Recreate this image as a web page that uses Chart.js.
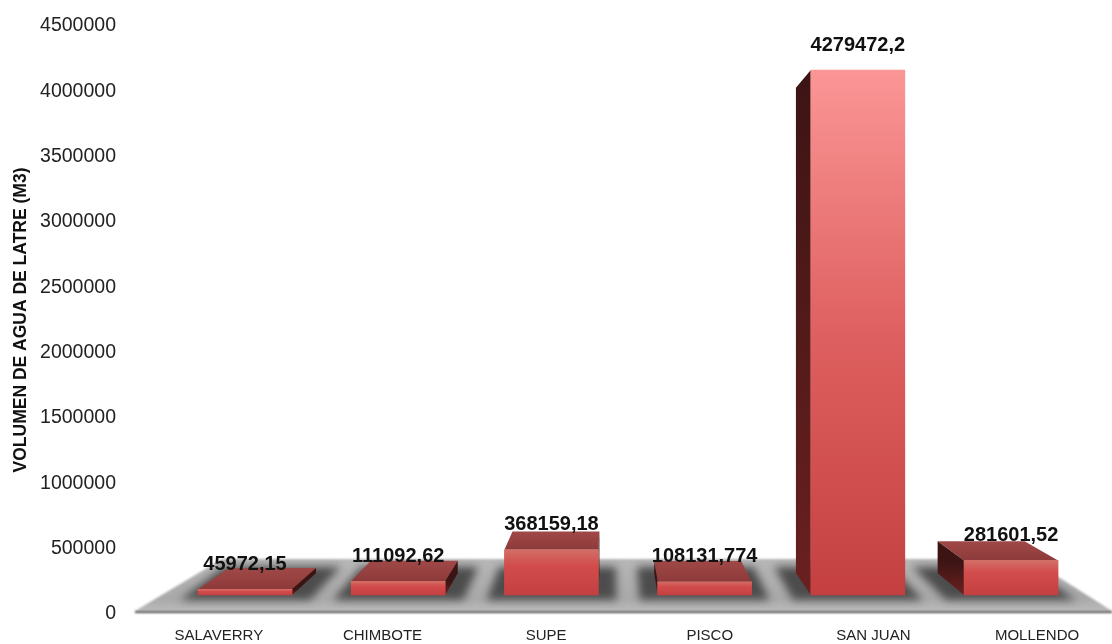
<!DOCTYPE html>
<html>
<head>
<meta charset="utf-8">
<title>Volumen de agua de latre</title>
<script src="https://cdn.jsdelivr.net/npm/chart.js@4/dist/chart.umd.min.js"></script>
<style>
    html, body { margin: 0; padding: 0; background: #fff; }
    canvas { display: block; }
</style>
</head>
<body>
<canvas id="volumeChart" width="1112" height="644"></canvas>
<script>
var ports = ['SALAVERRY', 'CHIMBOTE', 'SUPE', 'PISCO', 'SAN JUAN', 'MOLLENDO'];
var volumes = [45972.15, 111092.62, 368159.18, 108131.774, 4279472.2, 281601.52];
var yMax = 4500000;
var yStep = 500000;
var yTitle = 'VOLUMEN DE AGUA DE LATRE (M3)';

var FONT = '"Liberation Sans", Arial, sans-serif';

// perspective of the fake 3D boxes
var vanishX = 612, vanishY = 306, depth = 0.075;
function back(x, y) {
    return [x + (vanishX - x) * depth, y + (vanishY - y) * depth];
}

function poly(ctx, pts, fill) {
    ctx.beginPath();
    ctx.moveTo(pts[0][0], pts[0][1]);
    for (var i = 1; i < pts.length; i++) ctx.lineTo(pts[i][0], pts[i][1]);
    ctx.closePath();
    ctx.fillStyle = fill;
    ctx.fill();
}

var boxPlugin = {
    id: 'box3d',
    beforeDatasetsDraw: function (chart) {
        var ctx = chart.ctx;
        var bars = chart.getDatasetMeta(0).data;

        // floor
        ctx.save();
        ctx.filter = 'blur(1px)';
        var floor = ctx.createLinearGradient(0, 559, 0, 612);
        floor.addColorStop(0, '#b8b8b8');
        floor.addColorStop(0.75, '#a9a9a9');
        floor.addColorStop(1, '#bcbcbc');
        poly(ctx, [[135, 611], [222, 559], [1030, 559], [1112, 611]], floor);
        ctx.fillStyle = '#4a4a4a';
        ctx.fillRect(135, 611, 977, 2);
        ctx.restore();

        // soft dark patch under each box
        ctx.save();
        ctx.filter = 'blur(4px)';
        bars.forEach(function (bar) {
            var l = bar.x - bar.width / 2 - 18, r = bar.x + bar.width / 2 + 18, b = 600;
            var bl = back(l, b), br = back(r, b);
            bl = [l + (bl[0] - l) * 1.35, 567];
            br = [r + (br[0] - r) * 1.35, 567];
            poly(ctx, [[l, b], bl, br, [r, b]], '#4c4c4c');
        });
        ctx.restore();

        bars.forEach(function (bar) {
            var l = bar.x - bar.width / 2, r = bar.x + bar.width / 2;
            var t = bar.y, b = bar.base;
            var edge = bar.x < vanishX ? r : l;
            var side = ctx.createLinearGradient(0, t, 0, b);
            side.addColorStop(0, '#3c1414');
            side.addColorStop(1, '#6a2020');
            if (t > vanishY) {
                var top = ctx.createLinearGradient(0, back(l, t)[1], 0, t);
                top.addColorStop(0, '#a04848');
                top.addColorStop(1, '#8e3a3a');
                poly(ctx, [[l, t], back(l, t), back(r, t), [r, t]], top);
            }
            poly(ctx, [[edge, t], back(edge, t), back(edge, b), [edge, b]], side);
        });
    },
    afterDatasetsDraw: function (chart) {
        var ctx = chart.ctx;
        var bars = chart.getDatasetMeta(0).data;
        ctx.save();
        ctx.font = 'bold 20px ' + FONT;
        ctx.fillStyle = '#111';
        ctx.textAlign = 'center';
        ctx.textBaseline = 'middle';
        bars.forEach(function (bar, i) {
            ctx.fillText(String(volumes[i]).replace('.', ','), bar.x, bar.y - 25);
        });
        ctx.restore();
    }
};

var canvas = document.getElementById('volumeChart');

new Chart(canvas, {
    type: 'bar',
    data: {
        datasets: [{
            data: volumes.map(function (v, i) { return { x: i, y: v }; }),
            xAxisID: 'barX',
            yAxisID: 'barY',
            barThickness: 94,
            backgroundColor: function (c) {
                var chart = c.chart;
                var v = volumes[c.dataIndex];
                var t = chart.scales.barY ? chart.scales.barY.getPixelForValue(v) : NaN;
                if (!isFinite(t)) return '#c44040';
                // low boxes get their own light band along the top edge
                if (v < yStep * 2) {
                    var low = chart.ctx.createLinearGradient(0, t, 0, 595);
                    low.addColorStop(0, '#d26e66');
                    low.addColorStop(0.35, '#d24c4c');
                    low.addColorStop(1, '#c44040');
                    return low;
                }
                var g = chart.ctx.createLinearGradient(0, t, 0, 595);
                g.addColorStop(0, '#fb9696');
                g.addColorStop(0.5, '#df6060');
                g.addColorStop(1, '#c44040');
                return g;
            }
        }]
    },
    options: {
        responsive: false,
        animation: false,
        layout: { padding: { top: 26, left: 0, right: 0, bottom: 0 } },
        plugins: { legend: { display: false }, tooltip: { enabled: false } },
        scales: {
            // category names sit on a wider spacing than the boxes
            x: {
                type: 'linear',
                offset: false,
                min: -0.5,
                max: 5.458,
                grid: { display: false, drawTicks: false },
                border: { display: false },
                afterBuildTicks: function (scale) {
                    scale.ticks = ports.map(function (p, i) { return { value: i }; });
                },
                afterFit: function (scale) { scale.height = 30; },
                ticks: {
                    autoSkip: false,
                    maxRotation: 0,
                    padding: 13,
                    color: '#222',
                    font: { family: FONT, size: 15 },
                    callback: function (v) { return ports[v]; }
                }
            },
            y: {
                min: 0,
                max: yMax,
                grid: { display: false, drawTicks: false },
                border: { display: false },
                afterFit: function (scale) {
                    scale.width = 137;
                    scale.paddingTop = 0;
                    scale.paddingBottom = 0;
                },
                ticks: {
                    stepSize: yStep,
                    padding: 21,
                    color: '#222',
                    font: { family: FONT, size: 19.5 },
                    callback: function (v) { return String(v); }
                },
                title: {
                    display: true,
                    text: yTitle,
                    color: '#111',
                    padding: { top: 11, bottom: 0 },
                    font: { family: FONT, size: 17.5, weight: 'bold' }
                }
            },
            // hidden scales for the boxes: the front faces stand back from the axis
            barX: { type: 'linear', display: false, offset: false, min: -0.705, max: 5.659 },
            barY: { display: false, min: -154877, max: 4638147 }
        }
    },
    plugins: [boxPlugin]
});
</script>
</body>
</html>
